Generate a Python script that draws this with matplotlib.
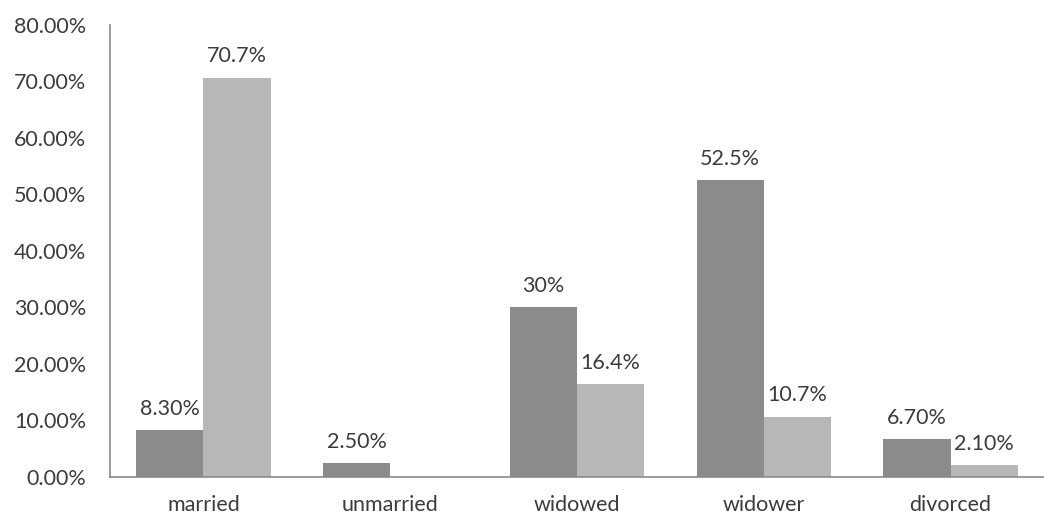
import numpy as np
import matplotlib.pyplot as plt

categories = ['married', 'unmarried', 'widowed', 'widower', 'divorced']
dark_vals = [8.3, 2.5, 30.0, 52.5, 6.7]
light_vals = [70.7, None, 16.4, 10.7, 2.1]
dark_labels = ['8.30%', '2.50%', '30%', '52.5%', '6.70%']
light_labels = ['70.7%', '', '16.4%', '10.7%', '2.10%']
yticks = [0, 10, 20, 30, 40, 50, 60, 70, 80]

plt.rcParams['font.family'] = ['Lato', 'DejaVu Sans']

fig = plt.figure(figsize=(10.44, 5.2), dpi=100)
ax = fig.add_axes([0.1054, 0.0827, 0.8946, 0.8693])

x = np.arange(len(categories))
w = 0.36
txt = '#3c3c3c'
fs = 15.5

light_h = [v if v is not None else 0 for v in light_vals]
b1 = ax.bar(x - w / 2, dark_vals, w, color='#8b8b8b', edgecolor='none')
b2 = ax.bar(x + w / 2, light_h, w, color='#b7b7b7', edgecolor='none')

for bars, labels in ((b1, dark_labels), (b2, light_labels)):
    for rect, lab in zip(bars, labels):
        if not lab:
            continue
        ax.annotate(lab, (rect.get_x() + rect.get_width() / 2, rect.get_height()),
                    xytext=(0, 8), textcoords='offset points',
                    ha='center', va='bottom', fontsize=fs, color=txt)

ax.set_xlim(-0.5, len(categories) - 0.5)
ax.set_ylim(0, 80)
ax.set_yticks(yticks)
ax.set_yticklabels([f'{t:.2f}%' for t in yticks])
ax.set_xticks(x)
ax.set_xticklabels(categories)
ax.tick_params(axis='both', length=0, labelsize=fs, labelcolor=txt)
ax.tick_params(axis='y', pad=17)
ax.tick_params(axis='x', pad=13)

for side in ('top', 'right'):
    ax.spines[side].set_visible(False)
for side in ('left', 'bottom'):
    ax.spines[side].set_color('#8a8a8a')
    ax.spines[side].set_linewidth(1.2)

fig.savefig('out.png', dpi=100)
